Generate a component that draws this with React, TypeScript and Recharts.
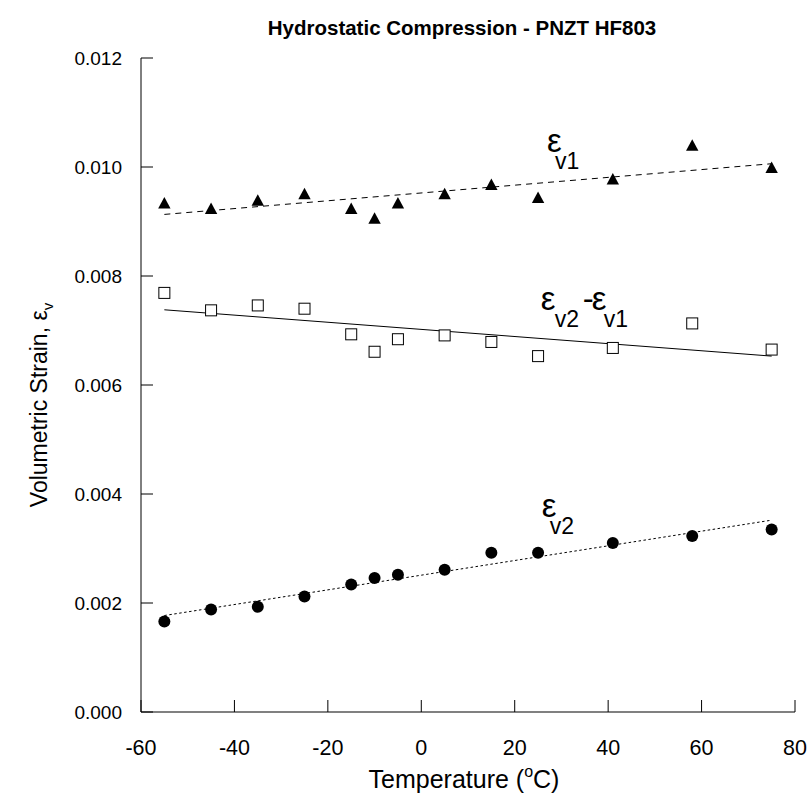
import React from 'react';
import { ComposedChart, XAxis, YAxis, Scatter, Line, ReferenceDot } from 'recharts';

const temps = [-55, -45, -35, -25, -15, -10, -5, 5, 15, 25, 41, 58, 75];
const ev1 = [0.00933, 0.00923, 0.00938, 0.0095, 0.00923, 0.00905, 0.00933, 0.0095, 0.00967, 0.00943, 0.00977, 0.01039, 0.00998];
const ev2MinusEv1 = [0.00769, 0.00737, 0.00746, 0.0074, 0.00693, 0.00661, 0.00684, 0.00691, 0.00679, 0.00653, 0.00668, 0.00713, 0.00665];
const ev2 = [0.00166, 0.00188, 0.00193, 0.00212, 0.00234, 0.00246, 0.00252, 0.00261, 0.00292, 0.00292, 0.0031, 0.00323, 0.00335];

const fitTemps = [-55, 75];
const fitEv1 = [0.00913, 0.01006];
const fitDiff = [0.00738, 0.00653];
const fitEv2 = [0.00177, 0.00352];

const xTicks = [-60, -40, -20, 0, 20, 40, 60, 80];
const yTicks = [0, 0.002, 0.004, 0.006, 0.008, 0.01, 0.012];

const TITLE = 'Hydrostatic Compression - PNZT HF803';

const toPoints = (xs: number[], ys: number[]) => xs.map((x, i) => ({ x, y: ys[i] }));

const ev1Data = toPoints(temps, ev1);
const diffData = toPoints(temps, ev2MinusEv1);
const ev2Data = toPoints(temps, ev2);
const fitEv1Data = toPoints(fitTemps, fitEv1);
const fitDiffData = toPoints(fitTemps, fitDiff);
const fitEv2Data = toPoints(fitTemps, fitEv2);

const SANS = 'Arial, "Liberation Sans", sans-serif';

const Triangle = (p: any) => {
  const { cx, cy } = p;
  if (cx == null || cy == null) return null;
  return <polygon points={`${cx},${cy - 6.5} ${cx - 6.2},${cy + 5} ${cx + 6.2},${cy + 5}`} fill="#000" />;
};
const Square = (p: any) => {
  const { cx, cy } = p;
  if (cx == null || cy == null) return null;
  return <rect x={cx - 5.5} y={cy - 5.5} width={11} height={11} fill="#fff" stroke="#000" strokeWidth={1} />;
};
const Dot = (p: any) => {
  const { cx, cy } = p;
  if (cx == null || cy == null) return null;
  return <circle cx={cx} cy={cy} r={6} fill="#000" />;
};

type Part = { t: string; sub?: boolean; dx: number };
const makeLabel = (parts: Part[]) => (p: any) => {
  const { cx, cy } = p;
  if (cx == null || cy == null) return null;
  return (
    <g>
      {parts.map((pt, i) =>
        pt.sub ? (
          <text key={i} x={cx + pt.dx} y={cy + 17} fontFamily={SANS} fontSize={23} fill="#000">{pt.t}</text>
        ) : (
          <text key={i} x={cx + pt.dx} y={cy} fontFamily={SANS} fontSize={33} fill="#000">{pt.t}</text>
        )
      )}
    </g>
  );
};

const labelEv1 = makeLabel([{ t: 'ε', dx: 0 }, { t: 'v1', sub: true, dx: 8 }]);
const labelDiff = makeLabel([
  { t: 'ε', dx: 0 },
  { t: 'v2', sub: true, dx: 14 },
  { t: '-', dx: 42 },
  { t: 'ε', dx: 51 },
  { t: 'v1', sub: true, dx: 63 },
]);
const labelEv2 = makeLabel([{ t: 'ε', dx: 0 }, { t: 'v2', sub: true, dx: 8 }]);

const YLabel = (props: any) => {
  const vb = props.viewBox || {};
  const x = 47;
  const y = vb.y + vb.height / 2 + 20;
  return (
    <text x={x} y={y} transform={`rotate(-90, ${x}, ${y})`} textAnchor="middle" fontFamily={SANS} fontSize={23} fill="#000">
      Volumetric Strain, ε<tspan fontSize={15} dy={6}>v</tspan>
    </text>
  );
};

const XLabel = (props: any) => {
  const vb = props.viewBox || {};
  const x = vb.x + vb.width / 2 - 4;
  const y = 788;
  return (
    <text x={x} y={y} textAnchor="middle" fontFamily={SANS} fontSize={25} fill="#000">
      Temperature (<tspan fontSize={16} dy={-11}>o</tspan><tspan dy={11}>C)</tspan>
    </text>
  );
};

const xTickStyle = { fontFamily: SANS, fontSize: 21.5, fill: '#000' };
const yTickStyle = { fontFamily: SANS, fontSize: 19, fill: '#000' };

export default function App() {
  return (
    <div style={{ position: 'absolute', left: 0, top: 0, width: 808, height: 802, overflow: 'hidden', background: '#fff' }}>
      <div
        style={{
          position: 'absolute',
          left: 135,
          width: 654,
          top: 16,
          textAlign: 'center',
          fontFamily: SANS,
          fontWeight: 'bold',
          fontSize: 20.5,
          color: '#000',
          whiteSpace: 'nowrap',
        }}
      >
        {TITLE}
      </div>
      <ComposedChart width={808} height={802} margin={{ top: 58, right: 13, bottom: 0, left: 0 }}>
        <XAxis
          xAxisId="b"
          type="number"
          dataKey="x"
          domain={[-60, 80]}
          ticks={xTicks}
          interval={0}
          tickSize={-12}
          tickMargin={40}
          height={90}
          axisLine={{ stroke: '#808080', strokeWidth: 2 }}
          tickLine={{ stroke: '#000' }}
          tick={xTickStyle}
          allowDataOverflow
          label={<XLabel />}
        />
        <XAxis
          xAxisId="t"
          orientation="top"
          type="number"
          dataKey="x"
          domain={[-60, 80]}
          ticks={xTicks}
          interval={0}
          tickSize={-12}
          height={0}
          axisLine={{ stroke: '#000' }}
          tickLine={{ stroke: '#000' }}
          tick={false}
        />
        <YAxis
          yAxisId="l"
          type="number"
          dataKey="y"
          domain={[0, 0.012]}
          ticks={yTicks}
          interval={0}
          tickSize={-12}
          tickMargin={31}
          width={141}
          axisLine={{ stroke: '#000' }}
          tickLine={{ stroke: '#000' }}
          tick={yTickStyle}
          tickFormatter={(v: number) => v.toFixed(3)}
          label={<YLabel />}
        />
        <YAxis
          yAxisId="r"
          orientation="right"
          type="number"
          dataKey="y"
          domain={[0, 0.012]}
          ticks={yTicks}
          interval={0}
          tickSize={-12}
          width={0}
          axisLine={{ stroke: '#000' }}
          tickLine={{ stroke: '#000' }}
          tick={false}
        />
        <Line xAxisId="b" yAxisId="l" data={fitEv1Data} dataKey="y" type="linear" stroke="#000" strokeWidth={1} strokeDasharray="6 5" dot={false} activeDot={false} isAnimationActive={false} />
        <Line xAxisId="b" yAxisId="l" data={fitDiffData} dataKey="y" type="linear" stroke="#000" strokeWidth={1} dot={false} activeDot={false} isAnimationActive={false} />
        <Line xAxisId="b" yAxisId="l" data={fitEv2Data} dataKey="y" type="linear" stroke="#000" strokeWidth={1} strokeDasharray="2.5 2.5" dot={false} activeDot={false} isAnimationActive={false} />
        <Scatter xAxisId="b" yAxisId="l" data={ev1Data} dataKey="y" shape={Triangle} isAnimationActive={false} />
        <Scatter xAxisId="b" yAxisId="l" data={diffData} dataKey="y" shape={Square} isAnimationActive={false} />
        <Scatter xAxisId="b" yAxisId="l" data={ev2Data} dataKey="y" shape={Dot} isAnimationActive={false} />
        <ReferenceDot xAxisId="b" yAxisId="l" x={26.9} y={0.01028} r={0} shape={labelEv1} />
        <ReferenceDot xAxisId="b" yAxisId="l" x={25.6} y={0.00738} r={0} shape={labelDiff} />
        <ReferenceDot xAxisId="b" yAxisId="l" x={25.8} y={0.00358} r={0} shape={labelEv2} />
      </ComposedChart>
    </div>
  );
}
